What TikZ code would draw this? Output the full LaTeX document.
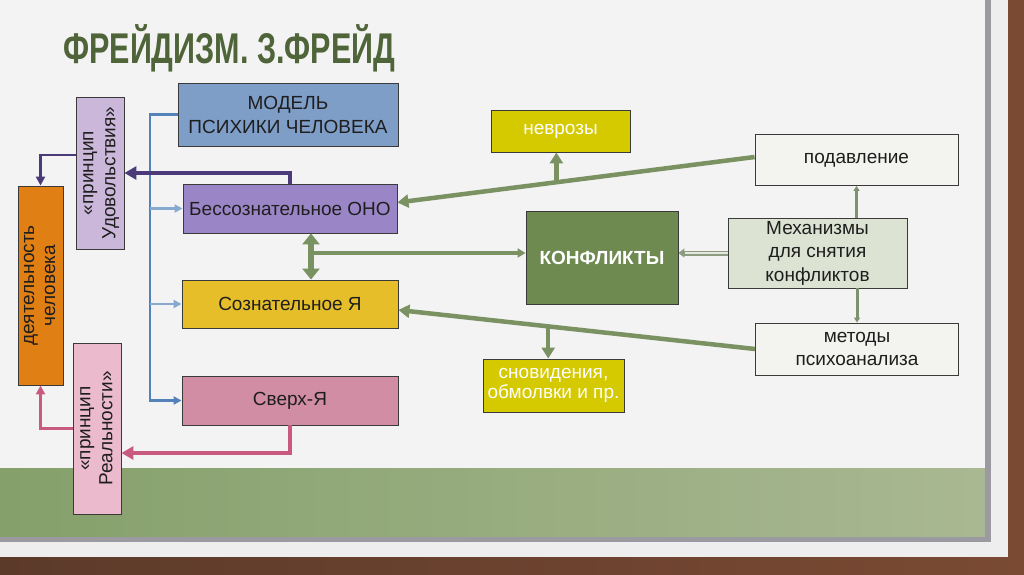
\documentclass[tikz,border=0pt]{standalone}
\usepackage{fontspec}
\setmainfont{Liberation Sans}
\usetikzlibrary{arrows.meta,calc}
\definecolor{brick}{HTML}{5C3A2A}
\definecolor{brick2}{HTML}{7A4A33}
\definecolor{panel}{HTML}{EEEEEE}
\definecolor{framegray}{HTML}{9A9AA0}
\definecolor{bandL}{HTML}{85A06B}
\definecolor{bandR}{HTML}{A9B892}
\definecolor{titlec}{HTML}{4F6438}
\definecolor{bordc}{HTML}{3A3A3A}
\definecolor{txt}{HTML}{1E1E1E}
\definecolor{cmodel}{HTML}{7E9EC8}
\definecolor{cono}{HTML}{9A86C6}
\definecolor{cya}{HTML}{E6BE2A}
\definecolor{csverh}{HTML}{D18DA3}
\definecolor{cudov}{HTML}{CBB7D9}
\definecolor{creal}{HTML}{EBBACC}
\definecolor{cdeyat}{HTML}{E07F14}
\definecolor{cyel}{HTML}{D5C900}
\definecolor{ckonfl}{HTML}{6F8A50}
\definecolor{cmehan}{HTML}{DCE3D3}
\definecolor{clight}{HTML}{F3F4EF}
\definecolor{bluedark}{HTML}{5381BA}
\definecolor{bluelight}{HTML}{86A9CF}
\definecolor{purc}{HTML}{4A3A7A}
\definecolor{pinkc}{HTML}{C85A7F}
\definecolor{greenc}{HTML}{7A9162}
\definecolor{greenthin}{HTML}{7E9070}
\definecolor{paleout}{HTML}{8D9C80}
\definecolor{palein}{HTML}{E4E7DF}
\begin{document}
\begin{tikzpicture}[x=1pt,y=-1pt,
  box/.style={draw=bordc, line width=0.9pt, inner sep=0pt, align=center, text=txt,
              font=\fontsize{19}{22}\selectfont},
  bluetrunk/.style={draw=bluedark, line width=2.6pt, -{Triangle[length=8pt,width=8pt]}},
  bluebranch/.style={draw=bluelight, line width=2.6pt, -{Triangle[length=8pt,width=8pt]}},
  purthick/.style={draw=purc, line width=4pt, -{Triangle[length=12pt,width=13pt]}},
  purthin/.style={draw=purc, line width=2.8pt, -{Triangle[length=9pt,width=9pt]}},
  pinkthick/.style={draw=pinkc, line width=4pt, -{Triangle[length=12pt,width=13pt]}},
  pinkthin/.style={draw=pinkc, line width=2.8pt, -{Triangle[length=9pt,width=9pt]}},
  gthick/.style={draw=greenc, line width=4.5pt, -{Triangle[length=11pt,width=13pt]}},
  gdbl/.style={draw=greenc, line width=6pt, {Triangle[length=11pt,width=17pt]}-{Triangle[length=11pt,width=17pt]}},
  gmed/.style={draw=greenc, line width=3.2pt, -{Triangle[length=8pt,width=9pt]}},
  gthin/.style={draw=greenthin, line width=3pt, -{Triangle[length=5pt,width=6pt]}},
  gpaleout/.style={draw=paleout, line width=5pt, -{Triangle[length=6pt,width=9pt]}},
  gpalein/.style={draw=palein, line width=2.4pt}]
\useasboundingbox (0,0) rectangle (1024,574);
% background
\shade[left color=brick, right color=brick2] (0,0) rectangle (1024,574);
\fill[panel] (0,0) rectangle (1008,557);
\fill[white, opacity=0.35] (0,0) rectangle (985,468);
\shade[left color=bandL, right color=bandR] (0,468) rectangle (985,537);
\fill[framegray] (0,537) rectangle (991,542);
\fill[framegray] (985,0) rectangle (991,542);
% title
\node[anchor=base west, inner sep=0pt, text=titlec, font=\fontsize{43}{43}\selectfont\bfseries] (title) at (63,63)
  {\scalebox{0.71}[1]{ФРЕЙДИЗМ. З.ФРЕЙД}};
% nodes
\node[box, fill=cmodel, minimum width=220pt, minimum height=63pt, font=\fontsize{19}{24}\selectfont] (model) at (288,114.5) {МОДЕЛЬ\\ПСИХИКИ ЧЕЛОВЕКА};
\node[box, fill=cono, minimum width=214pt, minimum height=49pt] (ono) at (290,208.5) {Бессознательное ОНО};
\node[box, fill=cya, minimum width=216pt, minimum height=48pt] (ya) at (290,304) {Сознательное Я};
\node[box, fill=csverh, minimum width=216pt, minimum height=49pt] (sverh) at (290,400.5) {Сверх-Я};
\node[box, fill=cudov, minimum width=48pt, minimum height=152pt] (udov) at (100,173)
  {\rotatebox{90}{\begin{tabular}{@{}c@{}}«принцип\\Удовольствия»\end{tabular}}};
\node[box, fill=creal, minimum width=48pt, minimum height=171pt] (real) at (97,428.5)
  {\rotatebox{90}{\begin{tabular}{@{}c@{}}«принцип\\Реальности»\end{tabular}}};
\node[box, fill=cdeyat, minimum width=45pt, minimum height=199pt, font=\fontsize{19}{21}\selectfont] (deyat) at (40.5,285.5)
  {\rotatebox{90}{\begin{tabular}{@{}c@{}}деятельность\\человека\end{tabular}}};
\node[box, fill=cyel, text=white, minimum width=139pt, minimum height=42pt] (nevroz) at (560.5,131) {неврозы};
\node[box, fill=cyel, text=white, minimum width=141pt, minimum height=53pt, font=\fontsize{19}{20}\selectfont] (snov) at (553.5,385.5) {сновидения,\\обмолвки и пр.};
\node[box, fill=ckonfl, text=white, minimum width=152pt, minimum height=93pt, font=\fontsize{19}{22}\selectfont\bfseries] (konfl) at (602,257.5) {КОНФЛИКТЫ};
\node[box, fill=cmehan, minimum width=179pt, minimum height=70pt, font=\fontsize{19}{23.5}\selectfont] (mehan) at (817.5,253) {Механизмы\\для снятия\\конфликтов};
\node[box, fill=clight, minimum width=203pt, minimum height=51pt] (podavl) at (856.5,160) {подавление};
\node[box, fill=clight, minimum width=203pt, minimum height=52pt, font=\fontsize{19}{23}\selectfont] (metody) at (857,349) {методы\\психоанализа};
% blue connectors
\coordinate (bb) at (150,400.5);
\draw[bluetrunk] (model.west) -| (bb) -- (sverh.west);
\draw[bluebranch] (ono.west -| bb) -- (ono.west);
\draw[bluebranch] (ya.west -| bb) -- (ya.west);
% purple connectors
\draw[purthick] (ono.north) |- (udov.east);
\draw[purthin] ([yshift=18pt]udov.west) -| (deyat.north);
% pink connectors
\draw[pinkthick] (sverh.south) |- ([yshift=-24.5pt]real.east);
\draw[pinkthin] (real.west) -| (deyat.south);
% green connectors
\draw[gdbl] ([xshift=21pt]ono.south) -- ([xshift=21pt]ya.north);
\coordinate (j1) at (311,253);
\draw[gmed] (j1) -- (j1 -| konfl.west);
\draw[gpaleout] (mehan.west |- j1) -- (j1 -| konfl.east);
\draw[gpalein] (mehan.west |- j1) -- ([xshift=7pt]j1 -| konfl.east);
\coordinate (p1) at ([yshift=3pt]podavl.west);
\coordinate (p2) at ([yshift=6pt]ono.east);
\draw[gthick] (p1) -- (p2);
\coordinate (b1) at ($(p1)!0.555!(p2)$);
\draw[gthick] (b1) -- (b1 |- nevroz.south);
\coordinate (m1) at (metody.west);
\coordinate (m2) at ([yshift=-6pt]ya.east);
\draw[gthick] (m1) -- (m2);
\coordinate (b2) at ($(m1)!0.58!(m2)$);
\draw[gthick] (b2) -- (b2 |- snov.north);
\draw[gthin] (podavl.south |- mehan.north) -- (podavl.south);
\draw[gthin] (metody.north |- mehan.south) -- (metody.north);
\end{tikzpicture}
\end{document}
